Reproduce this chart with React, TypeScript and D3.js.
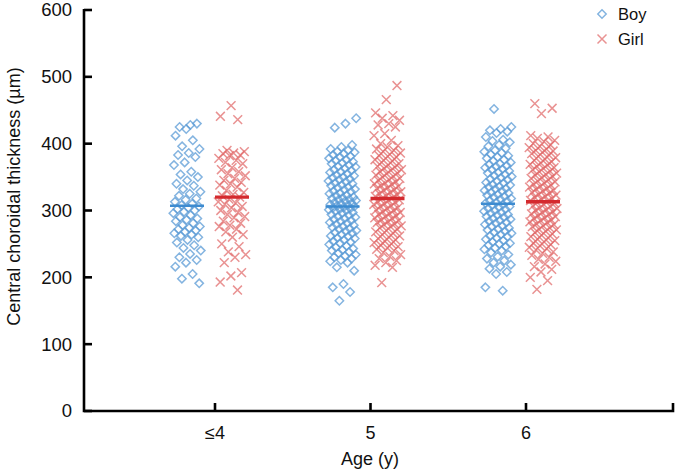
import React from "react";
import * as d3 from "d3";

const categories = ["≤4", "5", "6"];
const seriesNames = ["Boy", "Girl"];
const yTicks = [0, 100, 200, 300, 400, 500, 600];

const boyMeans = [307, 306, 310];
const girlMeans = [320, 318, 313];

const boy4 = [428, 425, 430, 422, 412, 405, 396, 392, 386, 383, 380, 372, 368, 358, 354, 350, 345, 340, 337, 332, 328, 325, 322, 318, 316, 313, 310, 308, 306, 304, 302, 300, 298, 296, 293, 290, 288, 286, 284, 281, 278, 276, 274, 272, 270, 268, 266, 264, 262, 260, 256, 252, 248, 244, 240, 235, 230, 226, 222, 216, 205, 198, 191];
const girl4 = [457, 441, 436, 390, 388, 386, 385, 383, 382, 378, 375, 372, 370, 364, 361, 358, 355, 352, 348, 345, 342, 340, 338, 335, 330, 327, 324, 322, 320, 317, 313, 311, 309, 306, 304, 300, 297, 294, 291, 289, 284, 281, 278, 276, 272, 268, 264, 260, 250, 246, 238, 234, 230, 222, 207, 202, 193, 181];
const boy5 = [438, 430, 424, 398, 395, 392, 390, 388, 387, 385, 383, 381, 380, 378, 376, 375, 373, 371, 370, 368, 366, 365, 363, 361, 360, 358, 357, 355, 353, 352, 350, 349, 347, 346, 344, 343, 341, 340, 338, 337, 335, 334, 332, 331, 329, 328, 326, 325, 323, 322, 320, 319, 318, 317, 316, 315, 314, 312, 311, 310, 309, 308, 307, 306, 305, 304, 303, 302, 301, 300, 299, 297, 296, 294, 293, 291, 290, 288, 287, 285, 284, 282, 281, 279, 278, 276, 275, 273, 272, 270, 269, 267, 266, 264, 262, 261, 259, 258, 256, 254, 253, 251, 249, 247, 245, 243, 241, 240, 238, 236, 234, 232, 230, 228, 226, 224, 222, 215, 210, 190, 185, 178, 165];
const girl5 = [487, 466, 446, 442, 438, 435, 430, 428, 425, 415, 412, 405, 400, 397, 395, 392, 390, 388, 386, 384, 382, 380, 378, 376, 374, 372, 370, 368, 366, 365, 363, 361, 360, 358, 356, 355, 353, 351, 350, 348, 346, 345, 343, 341, 340, 339, 337, 336, 334, 333, 331, 330, 328, 327, 325, 324, 322, 321, 319, 318, 316, 315, 313, 312, 310, 309, 307, 306, 304, 303, 301, 300, 298, 297, 295, 294, 292, 291, 289, 288, 286, 285, 283, 282, 280, 279, 277, 276, 274, 272, 270, 268, 266, 264, 262, 260, 258, 256, 254, 252, 250, 248, 246, 244, 242, 240, 237, 234, 231, 228, 225, 222, 218, 215, 192];
const boy6 = [452, 425, 422, 420, 418, 416, 410, 406, 404, 402, 398, 396, 393, 390, 388, 386, 384, 382, 380, 378, 376, 374, 372, 370, 369, 367, 366, 364, 362, 361, 359, 357, 356, 354, 352, 351, 349, 347, 346, 344, 342, 341, 339, 338, 336, 335, 333, 332, 330, 329, 327, 326, 324, 323, 321, 320, 318, 317, 315, 314, 312, 311, 309, 308, 306, 305, 303, 302, 300, 299, 297, 296, 294, 293, 291, 290, 288, 287, 285, 284, 282, 281, 279, 277, 276, 274, 272, 271, 269, 267, 266, 264, 262, 261, 259, 257, 255, 253, 251, 250, 248, 246, 244, 242, 240, 237, 234, 231, 228, 225, 222, 219, 216, 213, 208, 205, 185, 180];
const girl6 = [460, 453, 445, 412, 410, 408, 405, 403, 400, 398, 396, 394, 392, 390, 389, 387, 385, 383, 381, 379, 377, 375, 373, 371, 369, 368, 366, 364, 363, 361, 359, 358, 356, 354, 353, 351, 349, 348, 346, 344, 343, 341, 339, 338, 336, 335, 333, 332, 330, 329, 327, 326, 324, 323, 321, 320, 318, 317, 315, 314, 312, 311, 309, 307, 306, 304, 303, 301, 300, 298, 297, 295, 294, 292, 291, 289, 288, 286, 285, 283, 282, 280, 279, 277, 276, 274, 272, 271, 269, 267, 265, 263, 261, 259, 257, 255, 253, 251, 249, 247, 245, 243, 241, 238, 236, 233, 230, 227, 224, 220, 216, 212, 208, 200, 195, 182];

const boyData = [boy4, boy5, boy6];
const girlData = [girl4, girl5, girl6];

const W = 677;
const H = 470;
const left = 84;
const right = 673;
const top = 10;
const bottom = 411;

const BLUE = "#5b9bd5";
const BLUE_MEAN = "#3d8bd0";
const RED = "#e06464";
const RED_MEAN = "#d42a2e";
const FONT = "Liberation Sans, Arial, sans-serif";

const x = d3.scaleLinear().domain([1, 3]).range([215, 526]);
const y = d3.scaleLinear().domain([0, 600]).range([bottom, top]);

const boyOffset = -28;
const girlOffset = 17;
const jitterWidth = 28;

function jitter(i: number, seed: number) {
  const v = ((i + 1) * 0.6180339887 + seed * 0.37) % 1;
  return (v - 0.5) * jitterWidth;
}

function Diamond({ cx, cy, r }: { cx: number; cy: number; r: number }) {
  const p = `M${cx},${cy - r}L${cx + r},${cy}L${cx},${cy + r}L${cx - r},${cy}Z`;
  return <path d={p} fill="none" stroke={BLUE} strokeWidth={1.5} strokeOpacity={0.75} />;
}

function Cross({ cx, cy, r }: { cx: number; cy: number; r: number }) {
  const p = `M${cx - r},${cy - r}L${cx + r},${cy + r}M${cx - r},${cy + r}L${cx + r},${cy - r}`;
  return <path d={p} fill="none" stroke={RED} strokeWidth={1.5} strokeOpacity={0.7} />;
}

export default function App() {
  const meanHalf = 17;
  return (
    <div style={{ position: "absolute", left: 0, top: 0 }}>
      <svg width={W} height={H} style={{ display: "block", background: "#fff" }}>
        {boyData.map((arr, ci) =>
          arr.map((v, i) => (
            <Diamond key={`b${ci}-${i}`} cx={x(ci + 1) + boyOffset + jitter(i, ci)} cy={y(v)} r={4.2} />
          ))
        )}
        {girlData.map((arr, ci) =>
          arr.map((v, i) => (
            <Cross key={`g${ci}-${i}`} cx={x(ci + 1) + girlOffset + jitter(i, ci + 5)} cy={y(v)} r={4.4} />
          ))
        )}
        {boyMeans.map((m, ci) => (
          <line
            key={`bm${ci}`}
            x1={x(ci + 1) + boyOffset - meanHalf}
            x2={x(ci + 1) + boyOffset + meanHalf}
            y1={y(m)}
            y2={y(m)}
            stroke={BLUE_MEAN}
            strokeWidth={2.6}
          />
        ))}
        {girlMeans.map((m, ci) => (
          <line
            key={`gm${ci}`}
            x1={x(ci + 1) + girlOffset - meanHalf}
            x2={x(ci + 1) + girlOffset + meanHalf}
            y1={y(m)}
            y2={y(m)}
            stroke={RED_MEAN}
            strokeWidth={3.4}
          />
        ))}
        <path
          d={`M${left},${top - 1}L${left},${bottom}L${right},${bottom}L${right},${bottom - 8}`}
          fill="none"
          stroke="#000"
          strokeWidth={2.6}
        />
        {yTicks.map((t) => (
          <g key={`yt${t}`}>
            <line x1={left} x2={left + 8} y1={y(t)} y2={y(t)} stroke="#000" strokeWidth={2.6} />
            <text
              x={left - 12}
              y={y(t)}
              dy="0.35em"
              textAnchor="end"
              fontFamily={FONT}
              fontSize={18.5}
              fill="#111"
            >
              {t}
            </text>
          </g>
        ))}
        {categories.map((c, ci) => (
          <g key={`xt${ci}`}>
            <line x1={x(ci + 1)} x2={x(ci + 1)} y1={bottom} y2={bottom - 8} stroke="#000" strokeWidth={2.6} />
            <text
              x={x(ci + 1)}
              y={439}
              textAnchor="middle"
              fontFamily={FONT}
              fontSize={18}
              fill="#111"
            >
              {c}
            </text>
          </g>
        ))}
        <text x={370} y={465} textAnchor="middle" fontFamily={FONT} fontSize={18} fill="#111">
          Age (y)
        </text>
        <text
          transform={`translate(20,${(top + bottom) / 2 - 14}) rotate(-90)`}
          textAnchor="middle"
          fontFamily={FONT}
          fontSize={18}
          fill="#111"
        >
          Central choroidal thickness (µm)
        </text>
        <Diamond cx={602} cy={14} r={4.2} />
        <text x={618} y={14} dy="0.35em" fontFamily={FONT} fontSize={16.5} fill="#111">
          {seriesNames[0]}
        </text>
        <Cross cx={602} cy={39} r={4.5} />
        <text x={618} y={39} dy="0.35em" fontFamily={FONT} fontSize={16.5} fill="#111">
          {seriesNames[1]}
        </text>
      </svg>
    </div>
  );
}
